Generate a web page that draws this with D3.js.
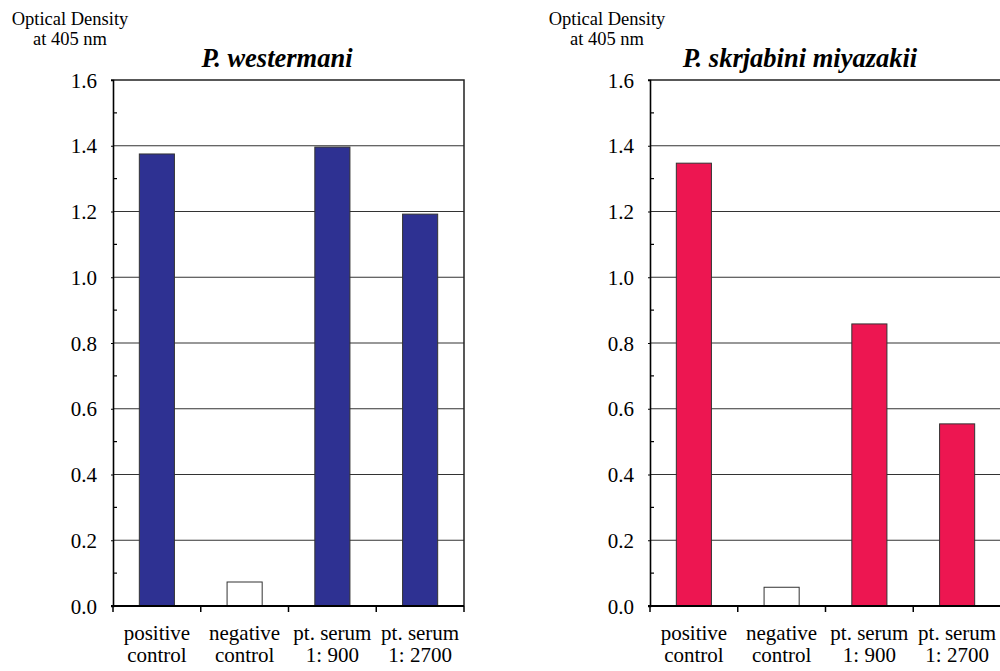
<!DOCTYPE html>
<html>
<head>
<meta charset="utf-8">
<script src="https://cdn.jsdelivr.net/npm/d3@7"></script>
<style>
  html, body { margin: 0; padding: 0; background: #fff; }
  svg { display: block; }
  svg text { font-family: "Liberation Serif", "Times New Roman", Times, serif; fill: #000; }
</style>
</head>
<body>
<svg id="chart" width="1000" height="671"></svg>
<script>
// ---- data ----
const categories = [["positive", "control"], ["negative", "control"], ["pt. serum", "1: 900"], ["pt. serum", "1: 2700"]];
const westermaniValues = [1.375, 0.073, 1.396, 1.192];
const skrjabiniValues = [1.347, 0.057, 0.858, 0.554];
const titles = ["P. westermani", "P. skrjabini miyazakii"];
const yTickValues = [0.0, 0.2, 0.4, 0.6, 0.8, 1.0, 1.2, 1.4, 1.6];
const yMinorTicks = [0.1, 0.3, 0.5, 0.7, 0.9, 1.1, 1.3, 1.5];
const yLabelLines = ["Optical Density", "at 405 nm"];
const fillColors = ["#2E3192", "#ED1651"];
const negativeFill = "#ffffff";

const FONT = '"Liberation Serif", "Times New Roman", Times, serif';

// ---- layout ----
const svg = d3.select("#chart");
const plotTop = 80, plotBottom = 606, plotW = 351;
const panels = [
  { left: 113, values: westermaniValues, title: titles[0], color: fillColors[0], titleDx: 164 },
  { left: 650, values: skrjabiniValues, title: titles[1], color: fillColors[1], titleDx: 150 }
];

const y = d3.scaleLinear().domain([0, 1.6]).range([plotBottom, plotTop]);

panels.forEach(p => {
  const g = svg.append("g").attr("transform", `translate(${p.left},0)`)
    .attr("font-family", FONT).style("font-family", FONT);
  const idx = d3.range(categories.length);
  const x = d3.scaleBand().domain(idx).range([0, plotW]).paddingInner(0.6).paddingOuter(0.3);
  const step = x.step();

  // y-axis label
  g.append("text")
    .attr("text-anchor", "middle")
    .style("font-size", "18.5px").style("font-family", FONT)
    .selectAll("tspan").data(yLabelLines).join("tspan")
    .attr("x", -43).attr("y", (d, i) => 25 + i * 20).text(d => d);

  // title
  g.append("text")
    .attr("x", p.titleDx).attr("y", 67).attr("text-anchor", "middle")
    .style("font-family", FONT)
    .style("font-size", "26.5px").style("font-weight", "bold").style("font-style", "italic")
    .text(p.title);

  // gridlines
  g.append("g").selectAll("line").data(yTickValues.filter(v => v > 0 && v < 1.6)).join("line")
    .attr("x1", 0).attr("x2", plotW)
    .attr("y1", d => y(d)).attr("y2", d => y(d))
    .attr("stroke", "#333").attr("stroke-width", 1.2);

  // plot frame: top & right
  g.append("path")
    .attr("d", `M-2,${y(1.6)}H${plotW}V${y(0)}`)
    .attr("fill", "none").attr("stroke", "#222").attr("stroke-width", 1.5);

  // bars
  g.append("g").selectAll("rect").data(p.values).join("rect")
    .attr("x", (d, i) => x(i))
    .attr("width", x.bandwidth())
    .attr("y", d => y(d))
    .attr("height", d => y(0) - y(d))
    .attr("fill", (d, i) => i === 1 ? negativeFill : p.color)
    .attr("stroke", "#333").attr("stroke-width", 1);

  // y axis
  const yAxis = d3.axisLeft(y).tickValues(yTickValues).tickFormat(d3.format(".1f")).tickSize(2).tickPadding(14);
  const ya = g.append("g").call(yAxis).attr("font-family", FONT).attr("font-size", 21);
  ya.select(".domain").attr("stroke", "#000").attr("stroke-width", 1.6);
  ya.selectAll(".tick line").attr("stroke", "#000").attr("stroke-width", 1.2);
  ya.selectAll(".tick text").style("font-size", "21px")
    .style("font-family", FONT).attr("dy", "0.34em");

  // minor ticks (inward)
  g.append("g").selectAll("line").data(yMinorTicks).join("line")
    .attr("x1", 0).attr("x2", 4)
    .attr("y1", d => y(d)).attr("y2", d => y(d))
    .attr("stroke", "#000").attr("stroke-width", 1.2);

  // x axis line and boundary ticks
  g.append("line").attr("x1", -2).attr("x2", plotW).attr("y1", y(0)).attr("y2", y(0))
    .attr("stroke", "#000").attr("stroke-width", 1.8);
  g.append("g").selectAll("line").data(d3.range(categories.length + 1)).join("line")
    .attr("x1", i => i * step).attr("x2", i => i * step)
    .attr("y1", y(0)).attr("y2", y(0) + 6)
    .attr("stroke", "#000").attr("stroke-width", 1.5);

  // x labels
  const lbl = g.append("g").selectAll("text").data(categories).join("text")
    .attr("text-anchor", "middle").style("font-size", "21px").style("font-family", FONT);
  lbl.selectAll("tspan").data((d, i) => d.map(s => ({ s, i }))).join("tspan")
    .attr("x", d => x(d.i) + x.bandwidth() / 2)
    .attr("y", (d, j) => 640 + j * 22)
    .text(d => d.s);
});
</script>
</body>
</html>
